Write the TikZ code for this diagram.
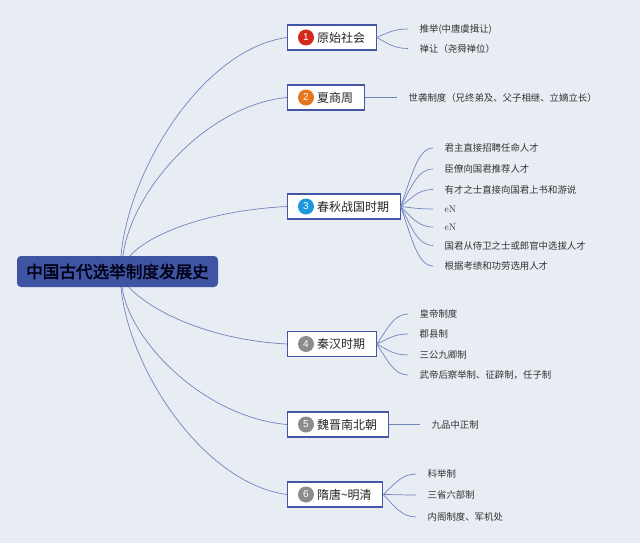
\documentclass[tikz,border=0pt]{standalone}
\usepackage{fontspec}
\newfontfamily\cjk[AutoFakeBold=2]{Noto Sans CJK SC}
\newfontfamily\numf{Liberation Sans}
\usetikzlibrary{calc}
\definecolor{bgc}{HTML}{E8EDF3}
\definecolor{boxc}{HTML}{4357A6}
\definecolor{rootc}{HTML}{3F55A4}
\definecolor{linkc}{HTML}{7283BE}
\definecolor{n1c}{HTML}{D42A1C}
\definecolor{n2c}{HTML}{E6761E}
\definecolor{n3c}{HTML}{1F97DC}
\definecolor{ngc}{HTML}{8C8C8C}
\begin{document}
\begin{tikzpicture}[x=1pt,y=-1pt,
  root/.style={rectangle, rounded corners=4pt, fill=rootc, minimum width=201pt, minimum height=31pt, inner sep=0pt, font=\cjk\bfseries\fontsize{16.6}{19}\selectfont, text=black!92!blue},
  topic/.style={draw=boxc, line width=1.1pt, fill=white, minimum height=25pt, inner xsep=11pt, inner ysep=0pt, anchor=west, font=\cjk\fontsize{12}{14}\selectfont, text=black!85},
  num/.style={circle, inner sep=0pt, minimum size=16pt, text=white, font=\numf\fontsize{10}{12}\selectfont},
  leaf/.style={anchor=west, inner xsep=11.5pt, inner ysep=1pt, font=\cjk\fontsize{9.4}{11}\selectfont, text=black!80},
  latinleaf/.style={leaf, font=\rmfamily\fontsize{9.6}{11}\selectfont},
  link/.style={draw=linkc, line width=0.7pt}
]
\fill[bgc] (0,0) rectangle (640,543);
\useasboundingbox (0,0) rectangle (640,543);

% root
\node[root] (c) at (117.5,271.5) {中国古代选举制度发展史};

% topics
\node[topic] (b1) at (287,37.5) {\hspace*{18.5pt}原始社会};
\node[topic] (b2) at (287,97.5) {\hspace*{18.5pt}夏商周};
\node[topic] (b3) at (287,206.5) {\hspace*{18.5pt}春秋战国时期};
\node[topic] (b4) at (287,344) {\hspace*{18.5pt}秦汉时期};
\node[topic] (b5) at (287,424.5) {\hspace*{18.5pt}魏晋南北朝};
\node[topic] (b6) at (287,494.5) {\hspace*{18.5pt}隋唐\textasciitilde 明清};

\node[num, fill=n1c] (n1) at ($(b1.west)+(19,0)$) {1};
\node[num, fill=n2c] (n2) at ($(b2.west)+(19,0)$) {2};
\node[num, fill=n3c] (n3) at ($(b3.west)+(19,0)$) {3};
\node[num, fill=ngc] (n4) at ($(b4.west)+(19,0)$) {4};
\node[num, fill=ngc] (n5) at ($(b5.west)+(19,0)$) {5};
\node[num, fill=ngc] (n6) at ($(b6.west)+(19,0)$) {6};

% root connectors
\draw[link] ([xshift=3.5pt]c.north) .. controls +(8,-88) and +(-83,11) .. (b1.west);
\draw[link] ([xshift=5.5pt]c.north) .. controls +(8,-64) and +(-82,8) .. (b2.west);
\draw[link] ([xshift=12.5pt]c.north) .. controls +(20,-22) and +(-79,4) .. (b3.west);
\draw[link] ([xshift=11.5pt]c.south) .. controls +(21,23) and +(-79,-4) .. (b4.west);
\draw[link] ([xshift=4.5pt]c.south) .. controls +(8,55) and +(-82,-7) .. (b5.west);
\draw[link] ([xshift=3.5pt]c.south) .. controls +(8,83) and +(-83,-11) .. (b6.west);

% leaves 1
\node[leaf] (l11) at (408,29) {推举(中唐虞揖让)};
\node[leaf] (l12) at (408,48.5) {禅让（尧舜禅位）};
\draw[link] (b1.east) .. controls +(10,-4) and +(-15,0) .. (l11.west);
\draw[link] (b1.east) .. controls +(10,5) and +(-15,0) .. (l12.west);

% leaf 2
\node[leaf] (l21) at (397,97.5) {世袭制度（兄终弟及、父子相继、立嫡立长）};
\draw[link] (b2.east) -- (l21.west);

% leaves 3
\node[leaf] (l31) at (433,148) {君主直接招聘任命人才};
\node[leaf] (l32) at (433,169) {臣僚向国君推荐人才};
\node[leaf] (l33) at (433,189.5) {有才之士直接向国君上书和游说};
\node[latinleaf] (l34) at (433,209) {eN};
\node[latinleaf] (l35) at (433,227) {eN};
\node[leaf] (l36) at (433,245.5) {国君从侍卫之士或郎官中选拔人才};
\node[leaf] (l37) at (433,266) {根据考绩和功劳选用人才};
\draw[link] (b3.east) .. controls +(10,-26) and +(-16,0) .. (l31.west);
\draw[link] (b3.east) .. controls +(10,-17) and +(-16,0) .. (l32.west);
\draw[link] (b3.east) .. controls +(10,-7) and +(-16,0) .. (l33.west);
\draw[link] (b3.east) .. controls +(10,1) and +(-16,0) .. (l34.west);
\draw[link] (b3.east) .. controls +(10,9) and +(-16,0) .. (l35.west);
\draw[link] (b3.east) .. controls +(10,18) and +(-16,0) .. (l36.west);
\draw[link] (b3.east) .. controls +(10,27) and +(-16,0) .. (l37.west);

% leaves 4
\node[leaf] (l41) at (408,314) {皇帝制度};
\node[leaf] (l42) at (408,334) {郡县制};
\node[leaf] (l43) at (408,355) {三公九卿制};
\node[leaf] (l44) at (408,375) {武帝后察举制、征辟制，任子制};
\draw[link] (b4.east) .. controls +(10,-13) and +(-15,0) .. (l41.west);
\draw[link] (b4.east) .. controls +(10,-4) and +(-15,0) .. (l42.west);
\draw[link] (b4.east) .. controls +(10,5) and +(-15,0) .. (l43.west);
\draw[link] (b4.east) .. controls +(10,14) and +(-15,0) .. (l44.west);

% leaf 5
\node[leaf] (l51) at (420,424.5) {九品中正制};
\draw[link] (b5.east) -- (l51.west);

% leaves 6
\node[leaf] (l61) at (416,474) {科举制};
\node[leaf] (l62) at (416,495) {三省六部制};
\node[leaf] (l63) at (416,517) {内阁制度、军机处};
\draw[link] (b6.east) .. controls +(10,-9) and +(-15,0) .. (l61.west);
\draw[link] (b6.east) .. controls +(10,0) and +(-15,0) .. (l62.west);
\draw[link] (b6.east) .. controls +(10,10) and +(-15,0) .. (l63.west);
\end{tikzpicture}
\end{document}
